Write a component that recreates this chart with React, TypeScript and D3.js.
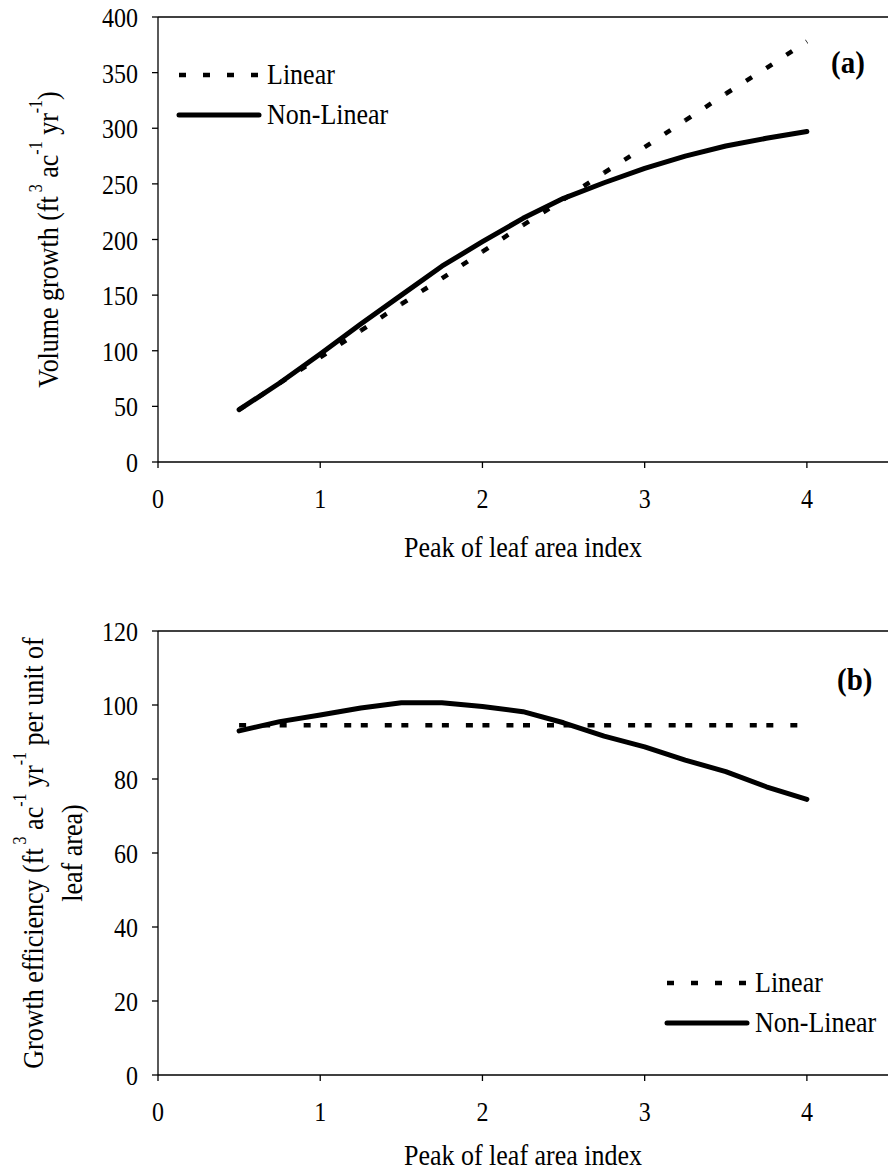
import React from "react";
import * as d3 from "d3";

const lai = [0.5, 0.75, 1, 1.25, 1.5, 1.75, 2, 2.25, 2.5, 2.75, 3, 3.25, 3.5, 3.75, 4];
const volumeLinear = [47, 71, 94, 118, 142, 165, 189, 213, 236, 260, 283, 307, 331, 354, 378];
const volumeNonLinear = [47, 71, 97, 124, 150, 176, 198, 219, 237, 251, 264, 275, 284, 291, 297];
const effLinear = [94.5, 94.5, 94.5, 94.5, 94.5, 94.5, 94.5, 94.5, 94.5, 94.5, 94.5, 94.5, 94.5, 94.5, 94.5];
const effNonLinear = [93, 95.5, 97.3, 99.2, 100.6, 100.6, 99.6, 98.2, 95.2, 91.6, 88.7, 85.1, 82, 77.9, 74.5];

const xTicks = [0, 1, 2, 3, 4];
const yTicksA = [0, 50, 100, 150, 200, 250, 300, 350, 400];
const yTicksB = [0, 20, 40, 60, 80, 100, 120];
const seriesNames = ["Linear", "Non-Linear"];

const FONT = '"Liberation Serif", "DejaVu Serif", serif';
const ST = 1.12; // vertical stretch of the glyphs

type TProps = {
  x: number;
  y: number;
  size: number;
  anchor?: "start" | "middle" | "end";
  bold?: boolean;
  rotate?: boolean;
  children: React.ReactNode;
};

function T({ x, y, size, anchor = "start", bold, rotate, children }: TProps) {
  return (
    <text
      transform={`translate(${x},${y})${rotate ? " rotate(-90)" : ""} scale(${1 / ST},1)`}
      fontSize={size * ST}
      textAnchor={anchor}
      fontWeight={bold ? "bold" : "normal"}
      style={{ whiteSpace: "pre" }}
    >
      {children}
    </text>
  );
}

type PanelProps = {
  top: number;
  bottom: number;
  yMax: number;
  yTicks: number[];
  linear: number[];
  nonLinear: number[];
  tag: string;
  tagX: number;
  tagY: number;
  legendX: number;
  legendY: number;
  titleOffset: number;
  yLabel: React.ReactNode;
};

function Panel(p: PanelProps) {
  const left = 158;
  const right = 888;
  const x = d3.scaleLinear().domain([0, 4.5]).range([left, right]);
  const y = d3.scaleLinear().domain([0, p.yMax]).range([p.bottom, p.top]);
  const line = d3
    .line<number>()
    .x((_, i) => x(lai[i]))
    .y((d) => y(d));
  const segs = d3.pairs(p.linear.map((v, i) => [x(lai[i]), y(v)] as [number, number]));
  return (
    <g style={{ fontFamily: FONT }} fill="#000">
      <line x1={left} x2={right} y1={p.top} y2={p.top} stroke="#000" strokeWidth={1.3} />
      <line x1={left} x2={left} y1={p.top} y2={p.bottom} stroke="#000" strokeWidth={1.3} />
      <line x1={left} x2={right} y1={p.bottom} y2={p.bottom} stroke="#000" strokeWidth={1.3} />
      {p.yTicks.map((t) => (
        <g key={"y" + t}>
          <line x1={left - 6} x2={left} y1={y(t)} y2={y(t)} stroke="#000" strokeWidth={1.3} />
          <T x={138} y={y(t) + 10} size={24} anchor="end">
            {t}
          </T>
        </g>
      ))}
      {xTicks.map((t) => (
        <g key={"x" + t}>
          <line x1={x(t)} x2={x(t)} y1={p.bottom} y2={p.bottom + 6} stroke="#000" strokeWidth={1.3} />
          <T x={x(t)} y={p.bottom + 46} size={24} anchor="middle">
            {t}
          </T>
        </g>
      ))}
      <T x={(left + right) / 2} y={p.bottom + p.titleOffset} size={26} anchor="middle">
        Peak of leaf area index
      </T>
      {p.yLabel}
      {segs.map((s, i) => (
        <line
          key={"d" + i}
          x1={s[0][0]}
          y1={s[0][1]}
          x2={s[1][0]}
          y2={s[1][1]}
          stroke="#000"
          strokeWidth={4.5}
          strokeDasharray="7,17"
        />
      ))}
      <path
        d={line(p.nonLinear) || ""}
        fill="none"
        stroke="#000"
        strokeWidth={5}
        strokeLinejoin="round"
        strokeLinecap="round"
      />
      <line
        x1={p.legendX}
        x2={p.legendX + 80}
        y1={p.legendY}
        y2={p.legendY}
        stroke="#000"
        strokeWidth={4.5}
        strokeDasharray="7,17"
      />
      <T x={p.legendX + 88} y={p.legendY + 9} size={26}>
        {seriesNames[0]}
      </T>
      <line
        x1={p.legendX}
        x2={p.legendX + 80}
        y1={p.legendY + 40}
        y2={p.legendY + 40}
        stroke="#000"
        strokeWidth={5}
        strokeLinecap="round"
      />
      <T x={p.legendX + 88} y={p.legendY + 49} size={26}>
        {seriesNames[1]}
      </T>
      <T x={p.tagX} y={p.tagY} size={29} bold>
        {p.tag}
      </T>
    </g>
  );
}

export default function App() {
  const SUP = 16;
  const RAISE = -16;
  const labelA = (
    <T x={58} y={(17 + 462) / 2} size={26} anchor="middle" rotate>
      <tspan>Volume growth (ft</tspan>
      <tspan dy={RAISE} fontSize={SUP * ST}>{" 3"}</tspan>
      <tspan dy={-RAISE}>{" ac"}</tspan>
      <tspan dy={RAISE} fontSize={SUP * ST}>{"-1"}</tspan>
      <tspan dy={-RAISE}>{" yr"}</tspan>
      <tspan dy={RAISE} fontSize={SUP * ST}>{"-1"}</tspan>
      <tspan dy={-RAISE}>{")"}</tspan>
    </T>
  );
  const cB = (631 + 1075) / 2;
  const labelB = (
    <g>
      <T x={43} y={cB} size={26} anchor="middle" rotate>
        <tspan>Growth efficiency (ft</tspan>
        <tspan dy={RAISE - 1} fontSize={SUP * ST}>{" 3"}</tspan>
        <tspan dy={-RAISE + 1}>{" ac"}</tspan>
        <tspan dy={RAISE - 1} fontSize={SUP * ST}>{"-1"}</tspan>
        <tspan dy={-RAISE + 1}>{" yr"}</tspan>
        <tspan dy={RAISE - 1} fontSize={SUP * ST}>{"-1"}</tspan>
        <tspan dy={-RAISE + 1}>{" per unit of"}</tspan>
      </T>
      <T x={82} y={cB} size={26} anchor="middle" rotate>
        leaf area)
      </T>
    </g>
  );
  return (
    <svg
      width={888}
      height={1174}
      style={{ position: "absolute", left: 0, top: 0, background: "#fff", fontFamily: FONT }}
    >
      <rect width={888} height={1174} fill="#fff" />
      <Panel
        top={17}
        bottom={462}
        yMax={400}
        yTicks={yTicksA}
        linear={volumeLinear}
        nonLinear={volumeNonLinear}
        tag="(a)"
        tagX={831}
        tagY={73}
        legendX={179}
        legendY={75}
        titleOffset={95}
        yLabel={labelA}
      />
      <Panel
        top={631}
        bottom={1075}
        yMax={120}
        yTicks={yTicksB}
        linear={effLinear}
        nonLinear={effNonLinear}
        tag="(b)"
        tagX={837}
        tagY={690}
        legendX={667}
        legendY={983}
        titleOffset={90}
        yLabel={labelB}
      />
    </svg>
  );
}
